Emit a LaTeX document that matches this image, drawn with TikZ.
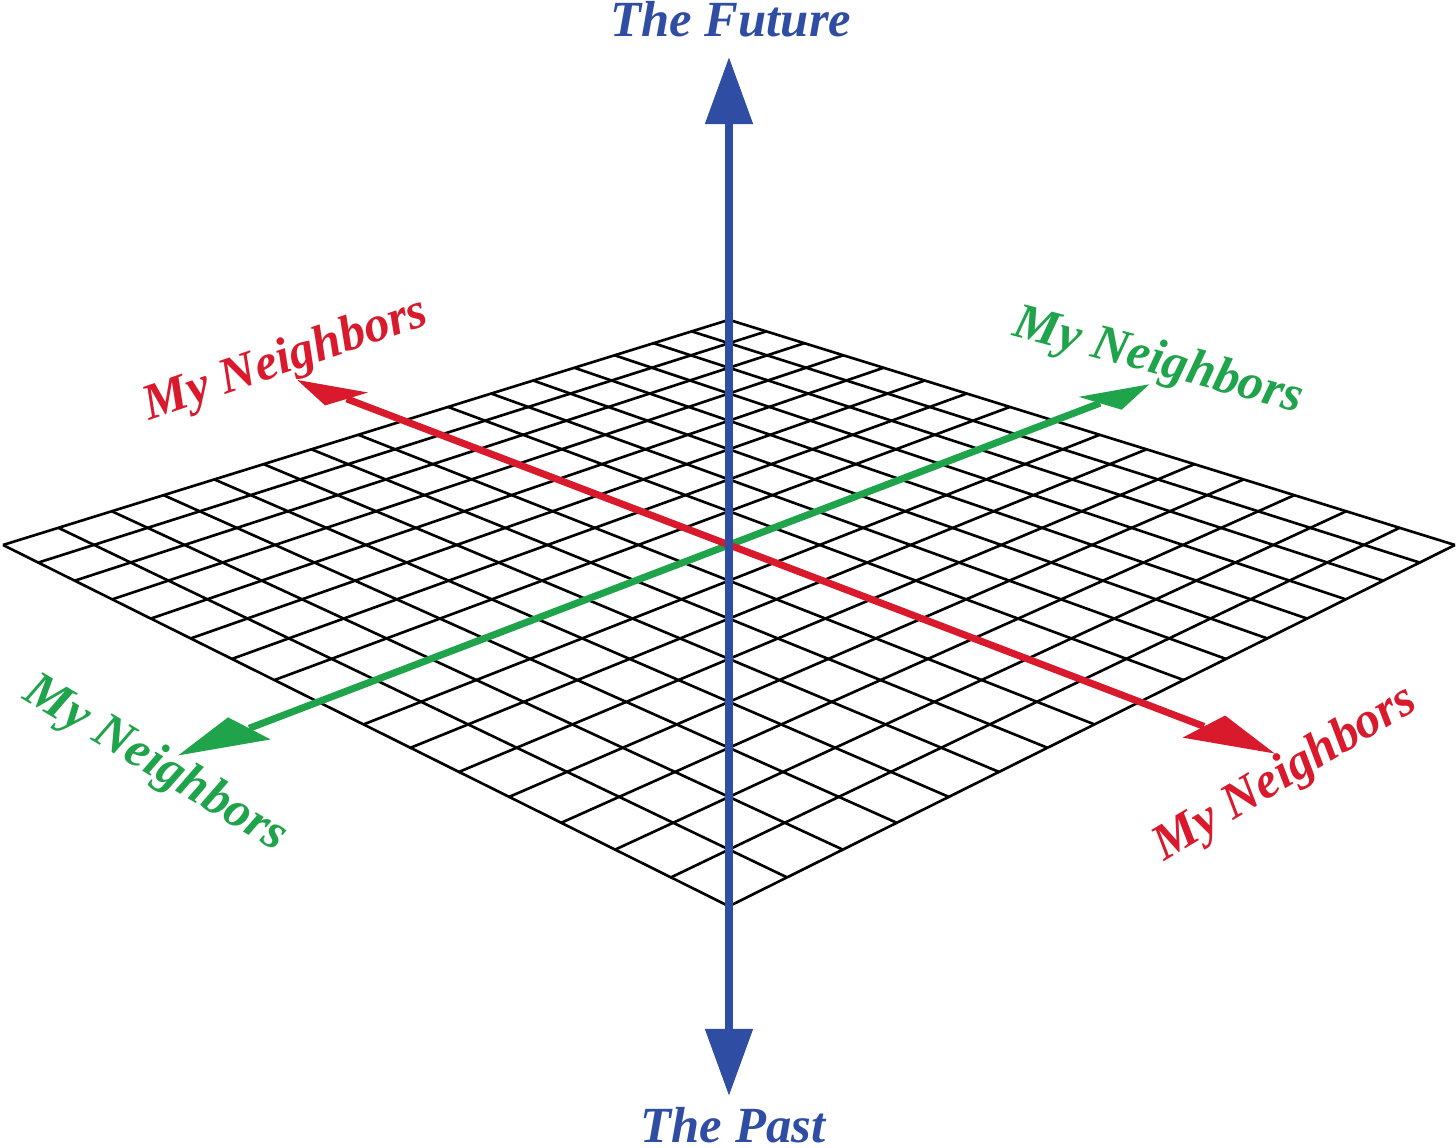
\documentclass[tikz,border=0pt]{standalone}
\usepackage{fontspec}
\setmainfont{Liberation Serif}
\usetikzlibrary{arrows.meta}
\definecolor{timeblue}{HTML}{2F4DA3}
\definecolor{nbred}{HTML}{D81A2C}
\definecolor{nbgreen}{HTML}{1FA34B}
% floor plane (u,v) -> page: half width, depth ratio, horizon height
\def\hw{726} \def\dd{0.2323} \def\hz{1194}
\newcommand{\plane}[3]{\coordinate (#1) at ({\hw*((#2)+(#3)-1)/(1+\dd*((#2)-(#3)))},{\hz*(1-1/(1+\dd*((#2)-(#3))))});}

\begin{document}
\begin{tikzpicture}[x=0.01cm, y=0.01cm,
  gridline/.style={line width=0.75pt, black},
  shaft/.style={line width=2pt},
  timeaxis/.style={line width=2.3pt, timeblue, {Triangle[length=6.7mm, width=4.6mm]}-{Triangle[length=6.7mm, width=4.6mm]}},
  lbl/.style={font=\fontsize{14.4}{16}\selectfont\bfseries\itshape, inner sep=0pt, anchor=base}]
  \useasboundingbox (-729,-603) rectangle (727,545);
  % floor grid, 16 x 16
  \foreach \i in {0,...,16} {
    \pgfmathsetmacro\t{\i/16}
    \plane{ua\i}{\t}{0} \plane{ub\i}{\t}{1}
    \plane{va\i}{0}{\t} \plane{vb\i}{1}{\t}
    \draw[gridline] (ua\i) -- (ub\i);
    \draw[gridline] (va\i) -- (vb\i);
  }
  % green neighbours axis (v = 0.5)
  \plane{gL}{-0.145}{0.5} \plane{gLb}{-0.073}{0.5} \plane{gL1}{-0.073}{0.47} \plane{gL2}{-0.073}{0.53}
  \plane{gR}{1.169}{0.5} \plane{gRb}{1.080}{0.5} \plane{gR1}{1.080}{0.47} \plane{gR2}{1.080}{0.53}
  \draw[shaft, nbgreen] (gLb) -- (gRb);
  \fill[nbgreen] (gL) -- (gL1) -- (gL2) -- cycle;
  \fill[nbgreen] (gR) -- (gR1) -- (gR2) -- cycle;
  % red neighbours axis (u = 0.5)
  \plane{rL}{0.5}{-0.19} \plane{rLb}{0.5}{-0.10} \plane{rL1}{0.47}{-0.10} \plane{rL2}{0.53}{-0.10}
  \plane{rR}{0.5}{1.14} \plane{rRb}{0.5}{1.068} \plane{rR1}{0.47}{1.068} \plane{rR2}{0.53}{1.068}
  \draw[shaft, nbred] (rLb) -- (rRb);
  \fill[nbred] (rL) -- (rL1) -- (rL2) -- cycle;
  \fill[nbred] (rR) -- (rR1) -- (rR2) -- cycle;
  % time axis
  \coordinate (future) at (0,488);
  \coordinate (past) at (0,-551);
  \draw[timeaxis] (past) -- (future);
  % labels
  \node[lbl, text=timeblue] (futurelbl) at (2,508) {The Future};
  \node[lbl, text=timeblue] (pastlbl) at (4,-597) {The Past};
  \node[lbl, text=nbred, rotate=19] (redul) at (-439,173) {My Neighbors};
  \node[lbl, text=nbred, rotate=31] (redlr) at (563,-240) {My Neighbors};
  \node[lbl, text=nbgreen, rotate=-15] (grnur) at (426,171) {My Neighbors};
  \node[lbl, text=nbgreen, rotate=-31] (grnll) at (-580,-230) {My Neighbors};
\end{tikzpicture}
\end{document}
